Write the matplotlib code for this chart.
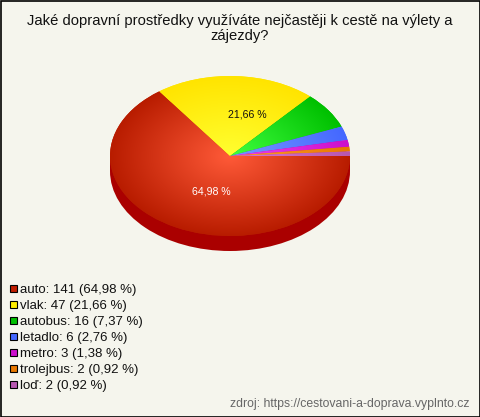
import numpy as np
import matplotlib
matplotlib.use('Agg')
import matplotlib.pyplot as plt
from matplotlib.colors import LinearSegmentedColormap
from matplotlib.patches import Rectangle, Ellipse

plt.rcParams['font.family'] = ['Liberation Sans', 'DejaVu Sans']

title = 'Jaké dopravní prostředky využíváte nejčastěji k cestě na výlety a\nzájezdy?'
source = 'zdroj: https://cestovani-a-doprava.vyplnto.cz'
names = ['auto', 'vlak', 'autobus', 'letadlo', 'metro', 'trolejbus', 'loď']
counts = [141, 47, 16, 6, 3, 2, 2]
percents = ['64,98', '21,66', '7,37', '2,76', '1,38', '0,92', '0,92']
inner_colors = ['#ff5a38', '#ffff30', '#40ff40', '#7898ff', '#ee44ee', '#ffa030', '#d878d0']
outer_colors = ['#b81c00', '#ffe400', '#00c000', '#4468ff', '#cc10cc', '#e87800', '#b858b0']
legend_colors = ['#c01e00', '#ffee00', '#00c000', '#4468ff', '#cc10cc', '#e87800', '#b858b0']

W, H = 480, 417
BG = '#f5f5ed'

fig = plt.figure(figsize=(W / 100, H / 100), dpi=100, facecolor=BG)

# page axes in pixel coordinates, for text, legend and border
page = fig.add_axes([0, 0, 1, 1])
page.set_xlim(0, W)
page.set_ylim(H, 0)
page.axis('off')
page.add_patch(Rectangle((0.5, 0.5), W - 1, H - 1, fc='none', ec='black', lw=1.2))

page.text(239.5, 28.5, title, ha='center', va='center', fontsize=10.6, color='#111111', linespacing=1.12)

for i, name in enumerate(names):
    y = 288.5 + 16 * i
    page.add_patch(Rectangle((9.5, y - 3.5), 7, 7, fc=legend_colors[i], ec='black', lw=0.8))
    page.text(20, y + 1, '{}: {} ({} %)'.format(name, counts[i], percents[i]),
              ha='left', va='center', fontsize=9.55, color='#111111')

page.text(470, 404.5, source, ha='right', va='center', fontsize=8.8, color='#666666')

# pie axes: unit circle stretched onto the ellipse
left, right, top, bottom = 110, 350, 76, 236
ax = fig.add_axes([left / W, 1 - bottom / H, (right - left) / W, (bottom - top) / H])
ax.patch.set_alpha(0)

depth = 15 / 80
ax.add_patch(Ellipse((0, -depth), 2, 2, fc='#aa0000', ec='none', clip_on=False))
ax.add_patch(Rectangle((-1, -depth), 2, depth, fc='#aa0000', ec='none', clip_on=False))

wedges, _ = ax.pie(counts, startangle=0, counterclock=False, radius=1, center=(0, 0),
                   wedgeprops={'linewidth': 0})
ax.set_aspect('auto')
ax.set_xlim(-1, 1)
ax.set_ylim(-1, 1)
ax.axis('off')

gx, gy = np.meshgrid(np.linspace(-1, 1, 480), np.linspace(-1, 1, 320))
radial = np.sqrt(gx ** 2 + gy ** 2)
for i, wedge in enumerate(wedges):
    cmap = LinearSegmentedColormap.from_list('w%d' % i, [inner_colors[i], outer_colors[i]])
    wedge.set_facecolor(outer_colors[i])
    im = ax.imshow(radial, extent=(-1, 1, -1, 1), origin='lower', cmap=cmap, vmin=0, vmax=1,
                   aspect='auto', zorder=2)
    im.set_clip_path(wedge)

ax.text(-0.158, -0.44, percents[0] + ' %', ha='center', va='center', fontsize=7.6, color='white', zorder=3)
ax.text(0.142, 0.52, percents[1] + ' %', ha='center', va='center', fontsize=7.6, color='#111111', zorder=3)

fig.savefig('out.png', dpi=100, facecolor=BG)
